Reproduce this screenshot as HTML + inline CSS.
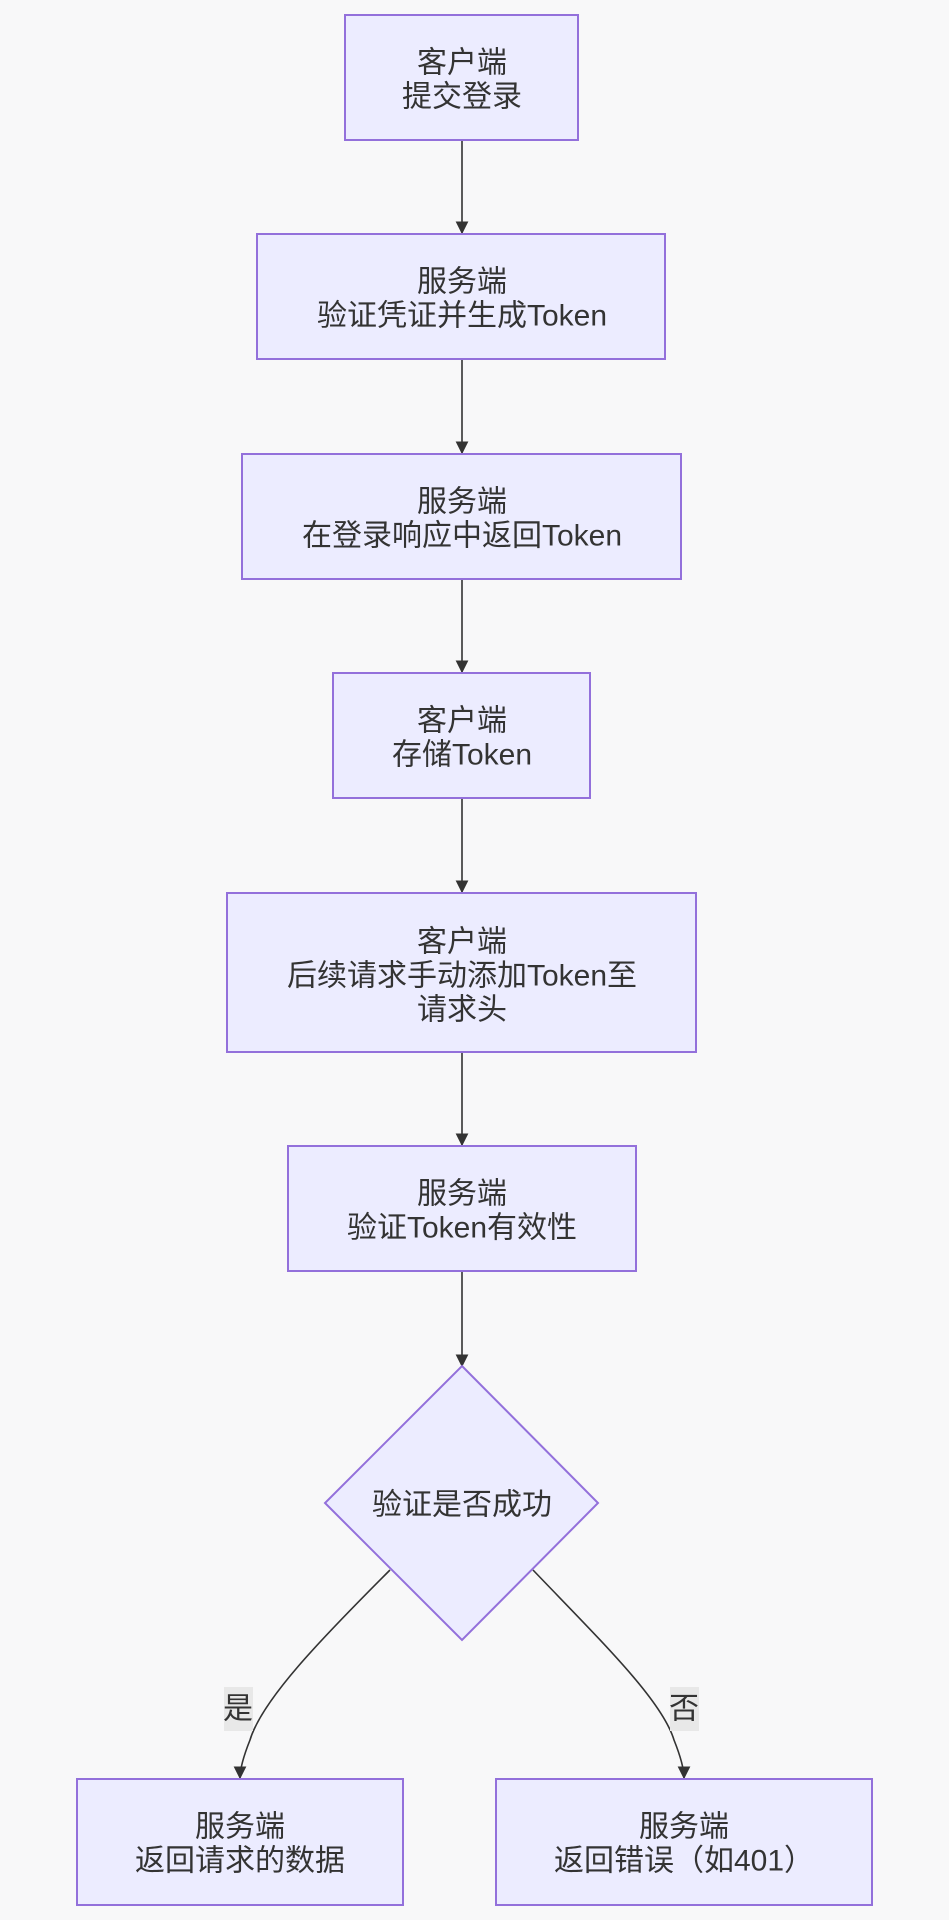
<!DOCTYPE html>
<html><head><meta charset="utf-8"><style>
html,body{margin:0;padding:0;background:#f8f8f9;}
svg{display:block}
text{font-family:"Liberation Sans","Noto Sans CJK SC",sans-serif;font-size:30px;fill:#333;text-anchor:middle;dominant-baseline:central}
.n{fill:#ECECFF;stroke:#9370DB;stroke-width:2}
.e{stroke:#333;stroke-width:1.6;fill:none}
</style></head><body>
<svg width="949" height="1920" viewBox="0 0 949 1920">
<defs><marker id="a" viewBox="0 0 10 10" refX="9" refY="5" markerWidth="8" markerHeight="8" orient="auto"><path d="M0,0L10,5L0,10z" fill="#333"/></marker></defs>
<g class="e">
<line x1="462" y1="140" x2="462" y2="233" marker-end="url(#a)"/>
<line x1="462" y1="359" x2="462" y2="453" marker-end="url(#a)"/>
<line x1="462" y1="579" x2="462" y2="672" marker-end="url(#a)"/>
<line x1="462" y1="798" x2="462" y2="892" marker-end="url(#a)"/>
<line x1="462" y1="1052" x2="462" y2="1145" marker-end="url(#a)"/>
<line x1="462" y1="1271" x2="462" y2="1366" marker-end="url(#a)"/>
<path d="M390,1570 C320,1640 262,1700 250,1740 C242,1760 240,1770 240,1778" marker-end="url(#a)"/>
<path d="M533,1570 C600,1640 662,1700 674,1740 C682,1760 684,1770 684,1778" marker-end="url(#a)"/>
</g>
<rect class="n" x="345" y="15" width="233" height="125"/>
<text x="462" y="63">客户端</text><text x="462" y="97">提交登录</text>
<rect class="n" x="257" y="234" width="408" height="125"/>
<text x="462" y="282">服务端</text><text x="462" y="316">验证凭证并生成Token</text>
<rect class="n" x="242" y="454" width="439" height="125"/>
<text x="462" y="502">服务端</text><text x="462" y="536">在登录响应中返回Token</text>
<rect class="n" x="333" y="673" width="257" height="125"/>
<text x="462" y="721">客户端</text><text x="462" y="755">存储Token</text>
<rect class="n" x="227" y="893" width="469" height="159"/>
<text x="462" y="942">客户端</text><text x="462" y="976">后续请求手动添加Token至</text><text x="462" y="1010">请求头</text>
<rect class="n" x="288" y="1146" width="348" height="125"/>
<text x="462" y="1194">服务端</text><text x="462" y="1228">验证Token有效性</text>
<polygon class="n" points="462,1366 598,1503 462,1640 325,1503"/>
<text x="462" y="1505">验证是否成功</text>
<rect x="224" y="1687" width="29" height="44" fill="#e8e8e8"/>
<text x="238" y="1709">是</text>
<rect x="670" y="1687" width="29" height="44" fill="#e8e8e8"/>
<text x="684" y="1709">否</text>
<rect class="n" x="77" y="1779" width="326" height="126"/>
<text x="240" y="1827">服务端</text><text x="240" y="1861">返回请求的数据</text>
<rect class="n" x="496" y="1779" width="376" height="126"/>
<text x="684" y="1827">服务端</text><text x="684" y="1861">返回错误（如401）</text>
</svg>
</body></html>
